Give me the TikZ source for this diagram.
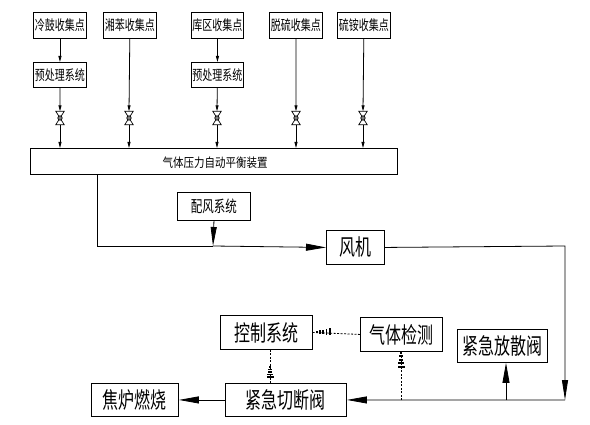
\documentclass[tikz,border=0pt]{standalone}
\usepackage{fontspec}
\usepackage{graphicx}
\usetikzlibrary{arrows.meta}
\setmainfont{Noto Sans CJK SC}
\newcommand{\cnt}[3]{\scalebox{1}[#2]{\fontsize{#1pt}{#1pt}\selectfont #3}}
\tikzset{
  x=1pt,y=-1pt,
  boxa/.style={draw=black,line width=0.9pt,inner sep=0pt,anchor=north west,align=center},
  line/.style={draw=black,line width=0.8pt},
  smallarrow/.style={line,-{Triangle[length=6pt,width=3pt]}},
  bigarrow/.style={line,-{Triangle[length=20pt,width=7pt]}},
  dashline/.style={draw=black,line width=0.8pt,dash pattern=on 2pt off 1.5pt},
  valvebox/.style={inner sep=0pt,minimum width=8pt,minimum height=13pt},
  valveline/.style={draw=black,line width=0.7pt,fill=white},
}
\newcommand{\mkbox}[7]{\node[boxa,minimum width=#4pt,minimum height=#5pt] (#1) at (#2,#3) {\cnt{#6}{1.4}{#7}};}
\begin{document}
\begin{tikzpicture}
\useasboundingbox (0,0) rectangle (590,425);
\mkbox{a1}{33}{12}{53}{26}{10}{冷鼓收集点}
\mkbox{a2}{103}{12}{53}{26}{10}{湘苯收集点}
\mkbox{a3}{191}{12}{52}{26}{10}{库区收集点}
\mkbox{a4}{269}{12}{53}{26}{10}{脱硫收集点}
\mkbox{a5}{337}{12}{53}{26}{10}{硫铵收集点}
\mkbox{p1}{33}{62}{53}{25}{10}{预处理系统}
\mkbox{p3}{191}{62}{52}{25}{10}{预处理系统}
\node[boxa,minimum width=367pt,minimum height=26pt] (bal) at (30,148) {};
\node (ballabel) at (215,163) {\cnt{10.5}{1.2}{气体压力自动平衡装置}};
\mkbox{air}{177}{192}{73}{28}{11.5}{配风系统}
\mkbox{fan}{326}{230}{58}{34}{16}{风机}
\mkbox{ctrl}{220}{315}{92}{34}{16}{控制系统}
\mkbox{gas}{360}{317}{82}{34}{16}{气体检测}
\mkbox{vent}{457}{329}{90}{33}{16}{紧急放散阀}
\mkbox{coke}{91}{383}{87}{33}{16}{焦炉燃烧}
\mkbox{cut}{225}{383}{121}{33}{16}{紧急切断阀}
\foreach \n/\xx in {v1/60,v2/129,v3/217,v4/296,v5/363}{
  \node[valvebox] (\n) at (\xx,118) {};
}
\coordinate (j1) at (97,246);
\coordinate (j2) at (213,246);
\coordinate (j3) at (565,246);
\coordinate (j4) at (565,400);
\coordinate (j5) at (506,400);
\coordinate (j6) at (401,400);
% inlets
\draw[smallarrow] (a1) -- (p1);
\draw[smallarrow] (a3) -- (p3);
\draw[smallarrow] (p1) -- (v1.north);
\draw[smallarrow] (p3) -- (v3.north);
\draw[smallarrow] (a2) -- (v2.north);
\draw[smallarrow] (a4) -- (v4.north);
\draw[smallarrow] (a5) -- (v5.north);
\foreach \n in {v1,v2,v3,v4,v5}{
  \draw[smallarrow] (\n.south) -- (\n.south |- bal.north);
  \draw[valveline] (\n.north west) -- (\n.north east) -- (\n.south west) -- (\n.south east) -- cycle;
  \draw[draw=black,line width=0.7pt,fill=gray] (\n.center) circle (2.2pt);
}
% middle
\draw[line] (j1 |- bal.south) -- (j1) -- (j2);
\draw[bigarrow] (j2) -- (fan.west);
\draw[line,-{Triangle[length=19pt,width=6pt]}] (air.south) -- (j2);
\draw[line,-{Triangle[length=20pt,width=6pt]}] (fan.east) -- (j3) -- (j4);
% bottom
\draw[bigarrow] (j4) -- (cut.east);
\draw[bigarrow] (cut.west) -- (coke.east);
\draw[line,-{Triangle[length=20pt,width=7pt]}] (j5) -- (j5 |- vent.south);
% dashed with barred tips
\draw[dashline] (j6) -- (j6 |- gas.south);
\draw[dashline] (gas.west) -- (ctrl.east);
\path (ctrl.south) -- (ctrl.south |- cut.north) coordinate[midway] (cm);
\draw[dashline] (ctrl.south -| 270,0) -- (270,0 |- cut.north);
\foreach \i/\w in {0/1.2,1/2.2,2/3.2,3/4,4/5}{
  \fill (401-\w*0.7,352+\i*3.4) rectangle (401+\w*0.7,354+\i*3.4);
  \fill (270-\w*0.7,366+\i*2.6-0) rectangle (270+\w*0.7,367.6+\i*2.6);
  \fill (316+\i*3.2,332-\w*0.7) rectangle (317.8+\i*3.2,332+\w*0.7);
}
\end{tikzpicture}
\end{document}
